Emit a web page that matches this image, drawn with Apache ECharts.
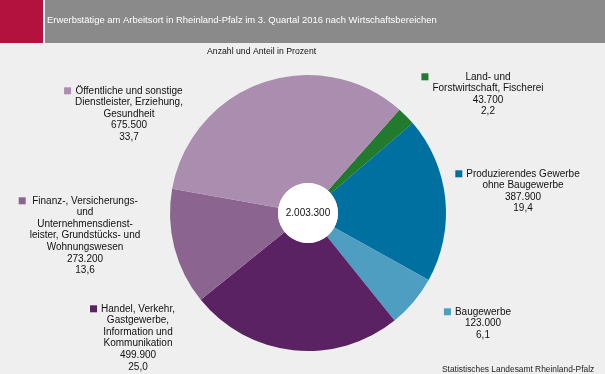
<!DOCTYPE html>
<html>
<head>
<meta charset="utf-8">
<script src="https://cdn.jsdelivr.net/npm/echarts@6/dist/echarts.min.js"></script>
<style>
html,body{margin:0;padding:0;background:#eeefee;}
#c{width:605px;height:374px;}
</style>
</head>
<body>
<div id="c"></div>
<script>
// ---- data ----
const categories = [
  'Land- und\nForstwirtschaft, Fischerei',
  'Produzierendes Gewerbe\nohne Baugewerbe',
  'Baugewerbe',
  'Handel, Verkehr,\nGastgewerbe,\nInformation und\nKommunikation',
  'Finanz-, Versicherungs-\nund\nUnternehmensdienst-\nleister, Grundstücks- und\nWohnungswesen',
  'Öffentliche und sonstige\nDienstleister, Erziehung,\nGesundheit'
];
const values = [43700, 387900, 123000, 499900, 273200, 675500];
const shares = [2.2, 19.4, 6.1, 25.0, 13.6, 33.7];
const total = 2003300;
const titleText = 'Erwerbstätige am Arbeitsort in Rheinland-Pfalz im 3. Quartal 2016 nach Wirtschaftsbereichen';
const subtitleText = 'Anzahl und Anteil in Prozent';
const sourceText = 'Statistisches Landesamt Rheinland-Pfalz';

// ---- styles / layout ----
const FONT = 'Liberation Sans, Arial, sans-serif';
const colors = ['#217a2e', '#0070a0', '#4d9ec0', '#5a2262', '#8b648f', '#ab8daf'];
const labelPos = [[488, 71], [523, 168], [483, 306], [138, 303], [85, 195], [129, 85]];

function fmtInt(v){ return String(v).replace(/\B(?=(\d{3})+(?!\d))/g, '.'); }
function fmtDec(v){ return v.toFixed(1).replace('.', ','); }

const mctx = document.createElement('canvas').getContext('2d');
mctx.font = '10px "Liberation Sans", Arial, sans-serif';
function tw(s){ return mctx.measureText(s).width; }

const rich = { t: {fontSize: 10, lineHeight: 11.6, color: '#111', fontFamily: FONT} };
colors.forEach((c, i) => { rich['m' + i] = {width: 7, height: 7, backgroundColor: c}; });

function labelText(i){
  const lines = categories[i].split('\n').concat([fmtInt(values[i]), fmtDec(shares[i])]);
  const maxW = Math.max.apply(null, lines.map(tw));
  const extra = Math.max(0, (maxW - tw(lines[0])) / 2);
  const gapL = 4 + extra, gapR = 11 + extra;
  rich['gl' + i] = {width: gapL, height: 7};
  rich['gr' + i] = {width: gapR, height: 7};
  let out = '{m' + i + '|}{gl' + i + '|}{t|' + lines[0] + '}{gr' + i + '|}';
  for (let k = 1; k < lines.length; k++) out += '\n{t|' + lines[k] + '}';
  return out;
}
const labelTexts = categories.map((c, i) => labelText(i));

const chart = echarts.init(document.getElementById('c'), null, {renderer: 'canvas'});
chart.setOption({
  backgroundColor: '#eeefee',
  animation: false,
  graphic: [
    {type: 'rect', shape: {x: 0, y: 0, width: 43, height: 43}, style: {fill: '#b3123f'}, z: -1},
    {type: 'rect', shape: {x: 43, y: 0, width: 2, height: 43}, style: {fill: '#ffffff'}, z: -1},
    {type: 'rect', shape: {x: 45, y: 0, width: 560, height: 43}, style: {fill: '#8a8a8a'}, z: -1}
  ],
  title: [
    {text: titleText, left: 47, top: 16, padding: 0, textStyle: {color: '#fff', fontSize: 9.45, fontWeight: 'normal', fontFamily: FONT}},
    {text: subtitleText, left: 207, top: 47.5, padding: 0, textStyle: {color: '#111', fontSize: 8.7, fontWeight: 'normal', fontFamily: FONT}},
    {text: sourceText, left: 442, top: 366, padding: 0, textStyle: {color: '#222', fontSize: 8.4, fontWeight: 'normal', fontFamily: FONT}}
  ],
  series: [
    {
      type: 'pie',
      center: [308, 213],
      radius: [30, 138],
      startAngle: 48.5,
      clockwise: true,
      silent: true,
      itemStyle: {borderWidth: 0},
      labelLine: {show: false},
      label: {
        show: true,
        position: 'inside',
        align: 'center',
        rich: rich,
        formatter: function(p){ return labelTexts[p.dataIndex]; }
      },
      labelLayout: function(p){
        const pos = labelPos[p.dataIndex];
        return {x: pos[0], y: pos[1], align: 'center', verticalAlign: 'top'};
      },
      data: values.map((v, i) => ({value: v, name: categories[i], itemStyle: {color: colors[i]}}))
    },
    {
      type: 'pie',
      center: [308, 213],
      radius: [0, 30],
      silent: true,
      itemStyle: {color: '#ffffff'},
      labelLine: {show: false},
      label: {show: true, position: 'center', formatter: () => fmtInt(total), color: '#111', fontSize: 10, fontFamily: FONT},
      data: [{value: total, name: 'Insgesamt'}]
    }
  ]
});
</script>
</body>
</html>
